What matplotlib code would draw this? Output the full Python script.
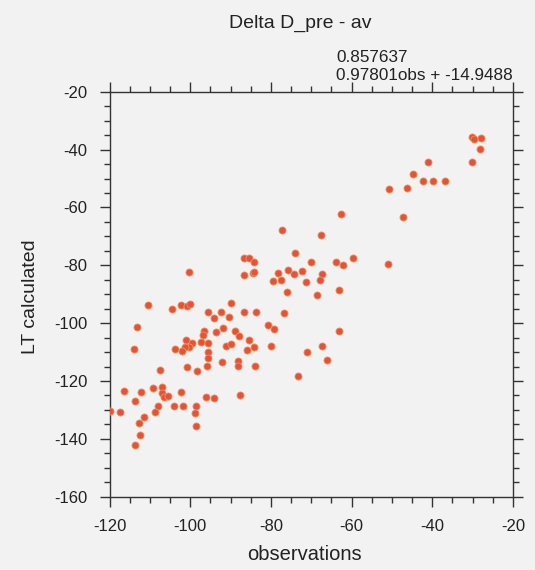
import matplotlib
matplotlib.use("Agg")
import matplotlib.pyplot as plt
from matplotlib.ticker import MultipleLocator

plt.rcParams['font.family'] = ['Liberation Sans', 'DejaVu Sans']
plt.rcParams['axes.unicode_minus'] = False

# values
obs = [
    -30.2, -29.7, -28.0, -28.2, -30.2, -41.1, -44.9, -42.2, -39.8, -36.9,
    -50.8, -46.3, -62.7, -47.3, -67.7, -59.6, -63.9, -62.2, -70.1, -50.9,
    -72.4, -67.3, -67.8, -71.3, -63.1, -68.7, -77.2, -74.0, -86.7, -85.4,
    -84.1, -100.4, -86.7, -84.5, -84.2, -75.8, -74.2, -78.2, -79.4, -77.5,
    -75.9, -63.1, -67.4, -71.1, -66.0, -73.2, -110.5, -104.6, -102.3, -100.9,
    -100.1, -89.8, -95.6, -92.4, -94.0, -90.4, -86.6, -83.8, -76.8, -113.2,
    -80.6, -79.2, -96.6, -96.9, -93.6, -91.8, -88.8, -87.8, -85.4, -97.3,
    -95.6, -101.0, -99.6, -100.2, -101.2, -103.8, -102.1, -91.2, -89.9, -85.9,
    -84.1, -79.9, -113.9, -95.5, -95.5, -88.1, -88.1, -92.1, -95.8, -100.9,
    -84.0, -107.5, -98.4, -116.3, -112.2, -109.1, -106.9, -107.1, -106.6, -105.4,
    -102.3, -96.1, -94.0, -87.7, -113.7, -107.9, -108.7, -104.0, -101.8, -98.5,
    -98.9, -119.9, -117.3, -111.4, -112.8, -98.6, -112.4, -113.6,
]
calc = [
    -35.6, -36.4, -35.9, -39.9, -44.4, -44.4, -48.5, -51.0, -51.0, -51.0,
    -53.7, -53.3, -62.2, -63.2, -69.4, -77.5, -78.9, -79.9, -78.9, -79.7,
    -82.0, -83.0, -85.1, -85.7, -88.7, -90.3, -67.9, -75.7, -77.5, -77.5,
    -78.8, -82.2, -83.4, -82.8, -82.2, -81.6, -83.1, -82.8, -85.4, -85.0,
    -89.2, -102.6, -107.9, -110.0, -112.8, -118.3, -93.7, -95.1, -93.7, -94.0,
    -93.5, -93.2, -96.3, -96.1, -98.3, -98.0, -96.2, -96.1, -96.4, -101.2,
    -100.7, -102.0, -102.6, -104.1, -103.2, -101.8, -102.7, -104.5, -105.8, -106.5,
    -107.0, -105.8, -106.7, -108.2, -108.4, -109.0, -109.5, -108.0, -107.1, -109.3,
    -108.2, -108.0, -108.8, -109.9, -112.2, -113.1, -114.8, -113.4, -114.7, -115.1,
    -114.8, -116.2, -116.7, -123.4, -123.8, -122.3, -122.1, -124.3, -125.4, -125.3,
    -123.7, -125.4, -125.8, -124.7, -126.9, -128.5, -130.7, -128.5, -128.5, -128.5,
    -131.0, -130.4, -130.6, -132.6, -134.4, -135.6, -138.7, -142.1,
]

title = "Delta D_pre - av"
corr_text = "0.857637"
fit_text = "0.97801obs + -14.9488"

bg = '#f2f2f2'
fig = plt.figure(figsize=(5.35, 5.7), dpi=100, facecolor=bg)
ax = fig.add_axes([0.2047, 0.1286, 0.7542, 0.7104], facecolor=bg)

ax.scatter(obs, calc, s=26, color='#e4513d', edgecolors='#ef9455',
           linewidths=0.6, zorder=3)

ax.set_xlim(-120, -20)
ax.set_ylim(-160, -20)
ax.xaxis.set_major_locator(MultipleLocator(20))
ax.yaxis.set_major_locator(MultipleLocator(20))
ax.xaxis.set_minor_locator(MultipleLocator(5))
ax.yaxis.set_minor_locator(MultipleLocator(5))

for side in ax.spines.values():
    side.set_color('#333333')
    side.set_linewidth(1.0)

ax.tick_params(which='both', direction='out', top=True, right=True,
               color='#333333', width=1.0)
ax.tick_params(which='major', length=7, pad=9, labelsize=12,
               labelcolor='#222222')
ax.tick_params(which='minor', length=4)

# labels and title placed to match the scan
ax.text(0.472, 1.157, title, transform=ax.transAxes, ha='center',
        va='baseline', fontsize=14, color='#222222')
ax.text(0.561, 1.073, corr_text, transform=ax.transAxes, ha='left',
        va='baseline', fontsize=12.3, color='#222222')
ax.text(0.561, 1.029, fit_text, transform=ax.transAxes, ha='left',
        va='baseline', fontsize=12.3, color='#222222')
ax.text(0.483, -0.119, "observations", transform=ax.transAxes, ha='center',
        va='top', fontsize=14.5, color='#222222')
ax.text(-0.197, 0.494, "LT calculated", transform=ax.transAxes, ha='center',
        va='center', rotation=90, fontsize=14, color='#222222')

fig.savefig("out.png", dpi=100, facecolor=bg)
